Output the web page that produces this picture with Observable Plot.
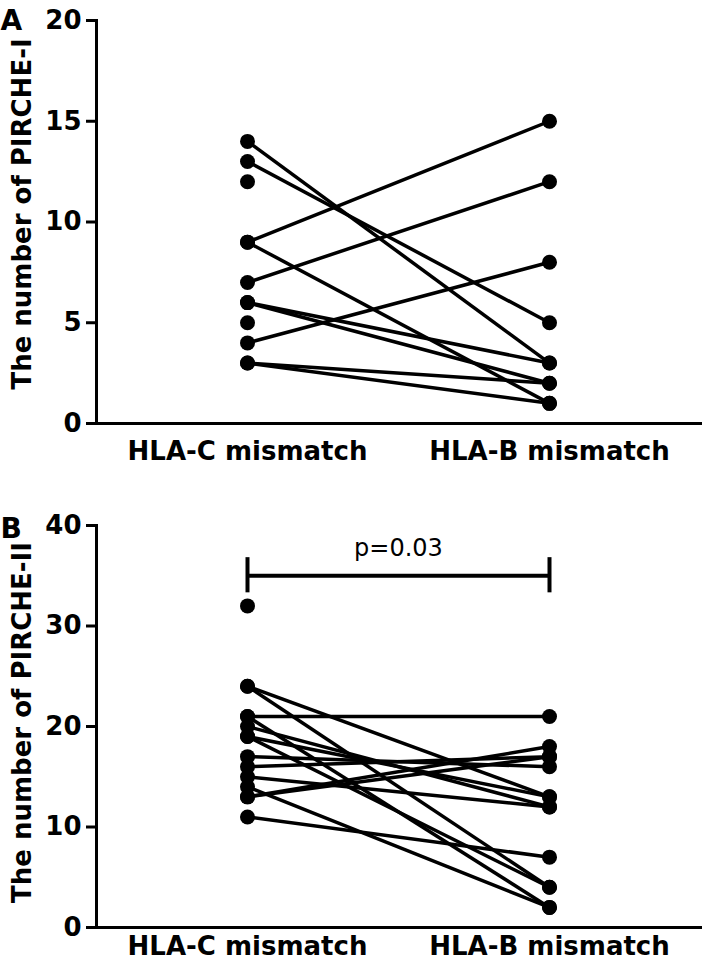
<!DOCTYPE html>
<html><head><meta charset="utf-8">
<script src="https://cdn.jsdelivr.net/npm/d3@7"></script>
<script src="https://cdn.jsdelivr.net/npm/@observablehq/plot@0.6"></script>
<style>
body{margin:0;background:#fff;}
#chart svg{display:block;}
</style></head><body><div id="chart"></div>
<script>
const groups = ["HLA-C mismatch", "HLA-B mismatch"];

// Panel A: PIRCHE-I
const aLeftOnly = [12, 5];
const aPairsC = [14, 13, 9, 9, 7, 6, 6, 4, 3, 3];
const aPairsB = [3, 5, 15, 1, 12, 3, 2, 8, 2, 1];
const aTicks = [0, 5, 10, 15, 20];
const aTitle = "The number of PIRCHE-I";

// Panel B: PIRCHE-II
const bLeftOnly = [32];
const bPairsC = [24, 24, 21, 21, 20, 19, 19, 17, 16, 15, 14, 13, 13, 11];
const bPairsB = [13, 4, 21, 2, 12, 13, 4, 16, 17, 12, 2, 18, 17, 7];
const bTicks = [0, 10, 20, 30, 40];
const bTitle = "The number of PIRCHE-II";
const bBracketY = [35];
const bBracketEnds = [33.3, 36.8];
const bPText = ["p=0.03"];
const bPTextY = 37.7;

const FONT = "DejaVu Sans";

function panel({letter, title, pairsC, pairsB, leftOnly, ticks, ymax, height, marginTop, marginBottom, labelPad, titleDy, letterDy, extra}) {
  const links = pairsC.map((c, i) => ({x1: groups[0], y1: c, x2: groups[1], y2: pairsB[i]}));
  const dots = [...pairsC, ...leftOnly].map(v => ({g: groups[0], v}))
    .concat(pairsB.map(v => ({g: groups[1], v})));
  return Plot.plot({
    width: 708,
    height,
    marginLeft: 96,
    marginRight: 8,
    marginTop,
    marginBottom,
    style: {fontFamily: FONT, color: "#000", background: "#fff", overflow: "visible"},
    x: {type: "point", domain: groups, padding: 0.5},
    y: {domain: [0, ymax]},
    marks: [
      Plot.link(links, {x1: "x1", y1: "y1", x2: "x2", y2: "y2", stroke: "#000", strokeWidth: 3.5}),
      Plot.dot(dots, {x: "g", y: "v", r: 7.5, fill: "#000", stroke: "none"}),
      ...(extra || []),
      Plot.frame({anchor: "left", stroke: "#000", strokeWidth: 3}),
      Plot.frame({anchor: "bottom", stroke: "#000", strokeWidth: 3}),
      Plot.axisY(ticks, {tickSize: 10, tickPadding: 5, strokeWidth: 3, fontSize: 26, fontWeight: "bold", label: null}),
      Plot.axisX({tickSize: 0, tickPadding: labelPad, fontSize: 26, fontWeight: "bold", label: null}),
      Plot.text([title], {frameAnchor: "left", rotate: -90, dx: -74, dy: titleDy, fontSize: 26, fontWeight: "bold", textAnchor: "middle", lineAnchor: "middle", fill: "#000"}),
      Plot.text([letter], {frameAnchor: "top-left", dx: -96, dy: letterDy, fontSize: 28, fontWeight: "bold", textAnchor: "start", lineAnchor: "bottom", fill: "#000"})
    ]
  });
}

const bracketData = bBracketY.map(y => ({y, x1: groups[0], x2: groups[1]}));
const bExtra = [
  Plot.link(bracketData, {x1: "x1", x2: "x2", y1: "y", y2: "y", stroke: "#000", strokeWidth: 4}),
  Plot.ruleX(groups, {x: d => d, y1: bBracketEnds[0], y2: bBracketEnds[1], stroke: "#000", strokeWidth: 4}),
  Plot.text(bPText, {frameAnchor: "top", y: bPTextY, fontSize: 24, fontWeight: "normal", lineAnchor: "middle", fill: "#000"})
];

const chart = document.getElementById("chart");
chart.append(panel({letter: "A", title: aTitle, pairsC: aPairsC, pairsB: aPairsB, leftOnly: aLeftOnly, ticks: aTicks, ymax: 20,
  height: 480, marginTop: 20, marginBottom: 57, labelPad: 18, titleDy: -8, letterDy: 9, extra: []}));
chart.append(panel({letter: "B", title: bTitle, pairsC: bPairsC, pairsB: bPairsB, leftOnly: bLeftOnly, ticks: bTicks, ymax: 40,
  height: 498, marginTop: 45, marginBottom: 51, labelPad: 9, titleDy: -4, letterDy: 12, extra: bExtra}));
</script>
</body></html>
